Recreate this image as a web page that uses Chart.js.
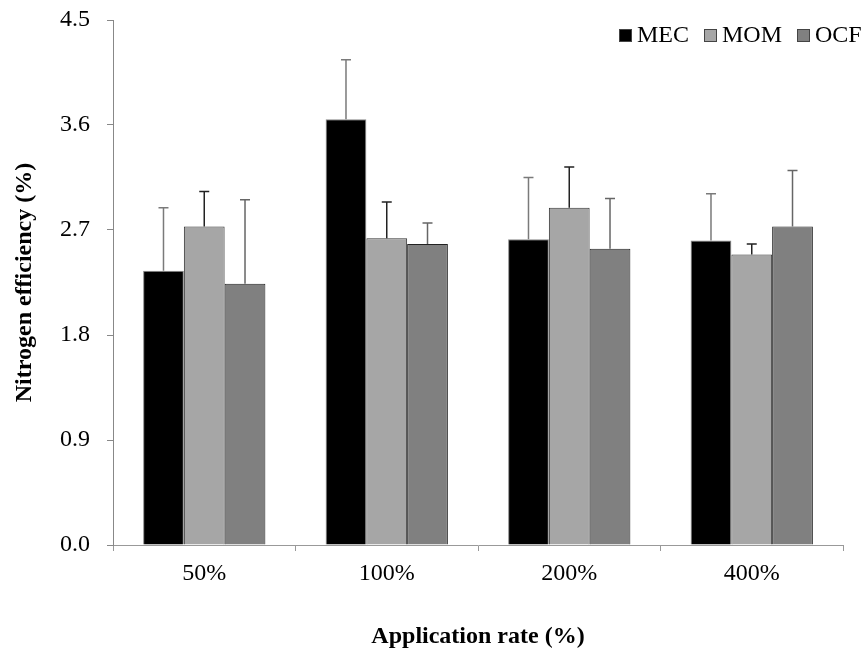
<!DOCTYPE html>
<html>
<head>
<meta charset="utf-8">
<script src="https://cdn.jsdelivr.net/npm/chart.js@4"></script>
<style>
  html, body { margin: 0; padding: 0; background: #fff; }
  #wrap { width: 866px; height: 654px; }
</style>
</head>
<body>
<div id="wrap"><canvas id="myChart" width="866" height="654"></canvas></div>
<script>
const categories = ['50%', '100%', '200%', '400%'];
const seriesNames = ['MEC', 'MOM', 'OCF'];
const mecValues = [2.35, 3.65, 2.62, 2.61];
const momValues = [2.73, 2.63, 2.89, 2.49];
const ocfValues = [2.24, 2.58, 2.54, 2.73];
const mecErr = [0.54, 0.51, 0.53, 0.40];
const momErr = [0.30, 0.31, 0.35, 0.09];
const ocfErr = [0.72, 0.18, 0.43, 0.48];
const yTicks = [0, 0.9, 1.8, 2.7, 3.6, 4.5];

const serif = "'Liberation Serif', 'Times New Roman', serif";
const errors = [mecErr, momErr, ocfErr];
const errColors = ['#7a7a7a', '#222', '#666'];

// error bars drawn from the bar elements and the y scale
const errorBars = {
    id: 'errorBars',
    afterDatasetsDraw(chart) {
        const ctx = chart.ctx;
        const y = chart.scales.y;
        chart.data.datasets.forEach((ds, i) => {
            const meta = chart.getDatasetMeta(i);
            meta.data.forEach((bar, j) => {
                const top = y.getPixelForValue(ds.data[j] + errors[i][j]);
                ctx.save();
                ctx.strokeStyle = errColors[i];
                ctx.lineWidth = 1.5;
                ctx.beginPath();
                ctx.moveTo(bar.x, bar.y);
                ctx.lineTo(bar.x, top);
                ctx.moveTo(bar.x - 5, top);
                ctx.lineTo(bar.x + 5, top);
                ctx.stroke();
                ctx.restore();
            });
        });
    }
};

// legend in the top right corner
const cornerLegend = {
    id: 'cornerLegend',
    afterDraw(chart) {
        const ctx = chart.ctx;
        const xs = [619, 704, 797];
        ctx.save();
        ctx.font = '24px ' + serif;
        ctx.textBaseline = 'middle';
        chart.data.datasets.forEach((ds, i) => {
            ctx.fillStyle = ds.backgroundColor;
            ctx.fillRect(xs[i], 29, 13, 13);
            ctx.strokeStyle = '#444';
            ctx.lineWidth = 1;
            ctx.strokeRect(xs[i] + 0.5, 29.5, 12, 12);
            ctx.fillStyle = '#000';
            ctx.fillText(ds.label, xs[i] + 18, 36);
        });
        ctx.restore();
    }
};

const ctx = document.getElementById('myChart').getContext('2d');
new Chart(ctx, {
    type: 'bar',
    data: {
        labels: categories,
        datasets: [
            { label: seriesNames[0], data: mecValues, backgroundColor: '#000000', borderColor: '#888', borderWidth: 1 },
            { label: seriesNames[1], data: momValues, backgroundColor: '#a6a6a6', borderColor: '#333', borderWidth: 1 },
            { label: seriesNames[2], data: ocfValues, backgroundColor: '#808080', borderColor: '#222', borderWidth: 1 }
        ]
    },
    options: {
        responsive: false,
        animation: false,
        layout: { padding: { top: 20, right: 23, left: 0, bottom: 0 } },
        datasets: { bar: { categoryPercentage: 0.67, barPercentage: 1.0 } },
        plugins: {
            legend: { display: false },
            tooltip: { enabled: false }
        },
        scales: {
            x: {
                grid: { drawOnChartArea: false, color: '#999', tickLength: 6, offset: true },
                border: { color: '#999' },
                ticks: { color: '#000', font: { family: serif, size: 24 }, padding: 8 },
                title: { display: true, text: 'Application rate (%)', color: '#000',
                         font: { family: serif, size: 24, weight: 'bold' }, padding: { top: 0, bottom: 3 } },
                afterFit(scale) { scale.height = 109; scale.paddingLeft = 0; scale.paddingRight = 0; }
            },
            y: {
                min: 0,
                max: 4.5,
                afterBuildTicks(scale) { scale.ticks = yTicks.map(v => ({ value: v })); },
                grid: { drawOnChartArea: false, color: '#888', tickLength: 6 },
                border: { color: '#888' },
                ticks: { color: '#000', font: { family: serif, size: 24 }, padding: 17,
                         callback: v => Number(v).toFixed(1) },
                title: { display: true, text: 'Nitrogen efficiency (%)', color: '#000',
                         font: { family: serif, size: 24, weight: 'bold' }, padding: { top: 10, bottom: 0 } },
                afterFit(scale) { scale.width = 113; scale.paddingTop = 0; scale.paddingBottom = 0; }
            }
        }
    },
    plugins: [errorBars, cornerLegend]
});
</script>
</body>
</html>
